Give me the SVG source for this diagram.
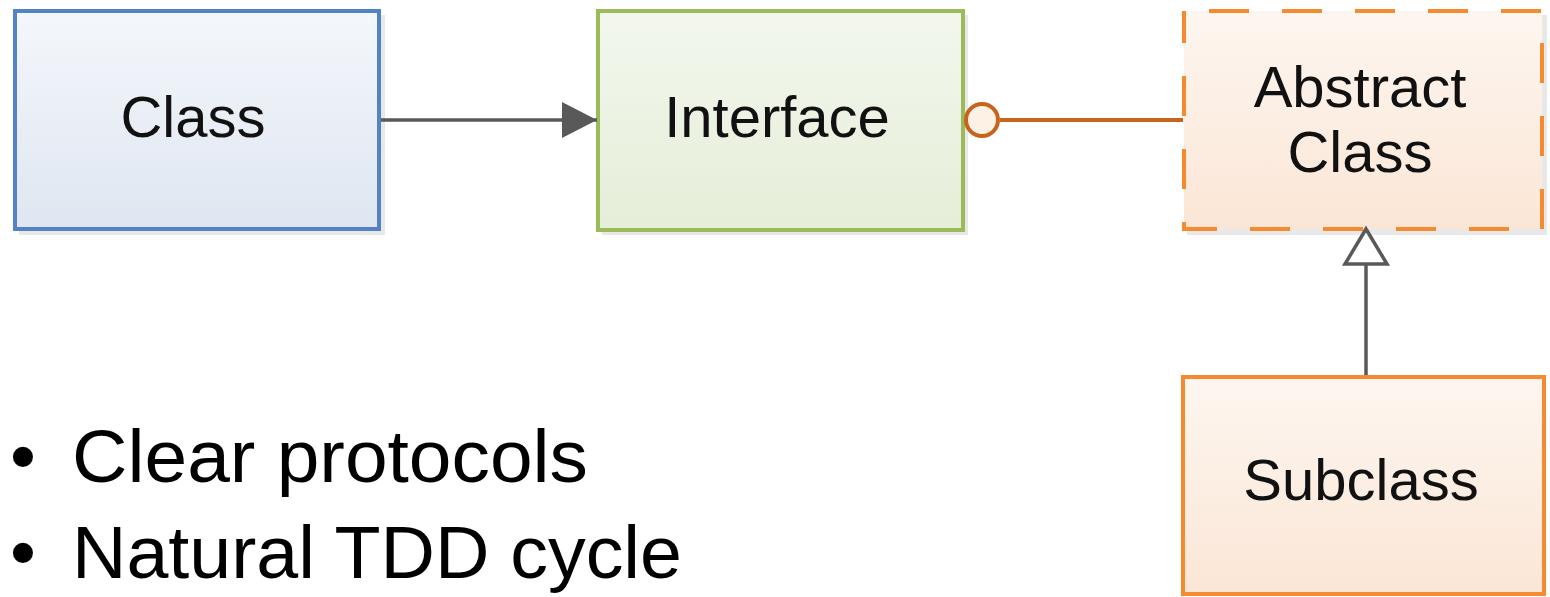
<svg xmlns="http://www.w3.org/2000/svg" width="1550" height="597" viewBox="0 0 1550 597">
<style>
.lbl{font-family:"Liberation Sans",Arial,sans-serif;font-size:58px;fill:#111;text-anchor:middle}
.bul{font-family:"Liberation Sans",Arial,sans-serif;font-size:74px;fill:#000}
.shadow{fill:#d8d8d8;opacity:0.6}
.conn{stroke:#595959;stroke-width:3.5;fill:none}
</style>
<defs>
<linearGradient id="gBlue" x1="0" y1="0" x2="0" y2="1"><stop offset="0" stop-color="#f4f7fb"/><stop offset="1" stop-color="#dfe6f1"/></linearGradient>
<linearGradient id="gGreen" x1="0" y1="0" x2="0" y2="1"><stop offset="0" stop-color="#f3f7ee"/><stop offset="1" stop-color="#e5eed8"/></linearGradient>
<linearGradient id="gOrange" x1="0" y1="0" x2="0" y2="1"><stop offset="0" stop-color="#fdf6f0"/><stop offset="1" stop-color="#fbe6d6"/></linearGradient>
<marker id="arrow" markerUnits="userSpaceOnUse" markerWidth="40" markerHeight="40" refX="35" refY="18" orient="auto"><path d="M0,0 L35,18 L0,36 Z" fill="#595959"/></marker>
</defs>
<g id="class">
<rect class="shadow" x="19" y="15" width="366" height="220"/>
<rect x="15" y="11" width="364" height="218" fill="url(#gBlue)" stroke="#5383c3" stroke-width="4"/>
<text class="lbl" x="193" y="137">Class</text>
</g>
<g id="interface">
<rect class="shadow" x="602" y="15" width="366" height="220"/>
<rect x="598" y="11" width="365" height="219" fill="url(#gGreen)" stroke="#9bbb59" stroke-width="4"/>
<text class="lbl" x="777" y="137">Interface</text>
</g>
<g id="abstract-class">
<rect class="shadow" x="1187" y="15" width="360" height="220"/>
<rect x="1184" y="11" width="358" height="218" fill="url(#gOrange)" stroke="#f68a2e" stroke-width="4" stroke-dasharray="40,33" stroke-dashoffset="-25"/>
<text class="lbl" x="1360" y="107">Abstract</text>
<text class="lbl" x="1360" y="172">Class</text>
</g>
<g id="subclass">
<rect x="1183" y="377" width="361" height="217" fill="url(#gOrange)" stroke="#f68a2e" stroke-width="4"/>
<text class="lbl" x="1361" y="500">Subclass</text>
</g>
<g id="connectors">
<line class="conn" x1="381" y1="120" x2="597" y2="120" marker-end="url(#arrow)"/>
<line x1="1000" y1="120" x2="1183" y2="120" stroke="#c8631d" stroke-width="4"/>
<circle cx="982" cy="120" r="16" fill="#fdf0e5" stroke="#c8631d" stroke-width="4"/>
<line class="conn" x1="1366" y1="375" x2="1366" y2="264"/>
<path d="M1366,229 L1345,264 L1387,264 Z" fill="#fff" stroke="#595959" stroke-width="3.5" stroke-linejoin="miter"/>
</g>
<g id="bullets">
<text class="bul" x="10" y="482">•</text>
<text class="bul" x="72" y="482" textLength="516" lengthAdjust="spacingAndGlyphs">Clear protocols</text>
<text class="bul" x="10" y="578">•</text>
<text class="bul" x="72" y="578" textLength="610" lengthAdjust="spacingAndGlyphs">Natural TDD cycle</text>
</g>
</svg>
